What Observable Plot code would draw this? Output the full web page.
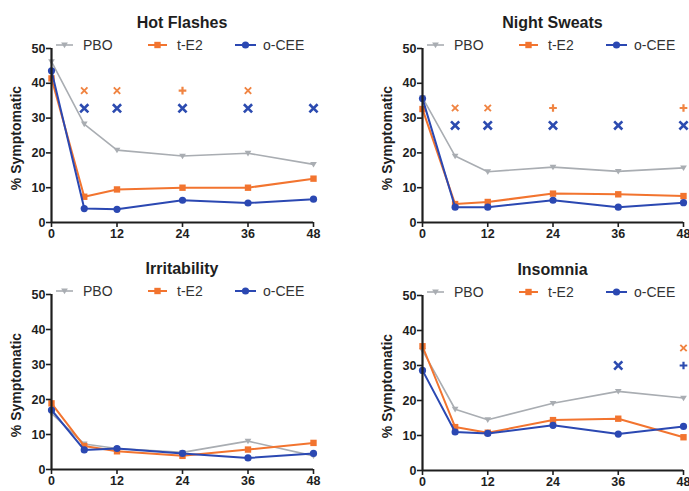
<!DOCTYPE html>
<html><head><meta charset="utf-8">
<script src="https://cdn.jsdelivr.net/npm/d3@7"></script>
<script src="https://cdn.jsdelivr.net/npm/@observablehq/plot@0.6"></script>
<style>
body{margin:0;background:#fff;}
#root{position:relative;width:689px;height:491px;overflow:hidden;font-family:"Liberation Sans",Arial,sans-serif;background:#fff;}
.panel{position:absolute;}
.title{position:absolute;font-weight:bold;font-size:16px;color:#1e1e1e;transform:translateX(-50%);white-space:nowrap;line-height:1;}
.legend{position:absolute;overflow:visible;}
</style></head><body><div id="root"></div>
<script>
// ---- data ----
const weeks = [0, 6, 12, 24, 36, 48];
const xTicks = [0, 12, 24, 36, 48];
const yTicks = [0, 10, 20, 30, 40, 50];
const seriesNames = ["PBO", "t-E2", "o-CEE"];
const seriesColors = ["#a9adb2", "#f2742f", "#2b48b2"];
const panelTitles = ["Hot Flashes", "Night Sweats", "Irritability", "Insomnia"];
const yLabel = "% Symptomatic";

const hotPBO = [46.2, 28.3, 20.8, 19.1, 19.9, 16.7];
const hotTE2 = [41.4, 7.4, 9.5, 10.0, 10.0, 12.6];
const hotCEE = [43.6, 4.0, 3.8, 6.4, 5.6, 6.7];
const hotSigTE2Weeks = [6, 12, 24, 36];
const hotSigTE2Marks = ["times", "times", "plus", "times"];
const hotSigTE2Level = 37.9;
const hotSigCEEWeeks = [6, 12, 24, 36, 48];
const hotSigCEEMarks = ["times", "times", "times", "times", "times"];
const hotSigCEELevel = 32.8;

const nightPBO = [35.9, 19.1, 14.6, 15.9, 14.7, 15.7];
const nightTE2 = [32.6, 5.3, 5.9, 8.3, 8.1, 7.6];
const nightCEE = [35.6, 4.4, 4.4, 6.4, 4.4, 5.7];
const nightSigTE2Weeks = [6, 12, 24, 48];
const nightSigTE2Marks = ["times", "times", "plus", "plus"];
const nightSigTE2Level = 32.9;
const nightSigCEEWeeks = [6, 12, 24, 36, 48];
const nightSigCEEMarks = ["times", "times", "times", "times", "times"];
const nightSigCEELevel = 27.9;

const irrPBO = [16.0, 7.3, 6.0, 4.9, 8.1, 3.9];
const irrTE2 = [18.9, 6.7, 5.2, 3.9, 5.7, 7.6];
const irrCEE = [17.0, 5.6, 6.0, 4.6, 3.3, 4.6];
const irrSigTE2Weeks = [];
const irrSigTE2Marks = [];
const irrSigTE2Level = 0;
const irrSigCEEWeeks = [];
const irrSigCEEMarks = [];
const irrSigCEELevel = 0;

const insPBO = [34.3, 17.5, 14.5, 19.2, 22.6, 20.7];
const insTE2 = [35.5, 12.4, 10.8, 14.4, 14.8, 9.5];
const insCEE = [28.6, 11.0, 10.6, 12.9, 10.4, 12.6];
const insSigTE2Weeks = [48];
const insSigTE2Marks = ["times"];
const insSigTE2Level = 35.0;
const insSigCEEWeeks = [36, 48];
const insSigCEEMarks = ["times", "plus"];
const insSigCEELevel = 30.0;

// ---- helpers ----
const triangleDown = {
  draw(ctx, size) {
    const k = Math.sqrt(size / Math.PI);
    ctx.moveTo(-k * 1.05, -k * 0.75);
    ctx.lineTo(k * 1.05, -k * 0.75);
    ctx.lineTo(0, k * 1.0);
    ctx.closePath();
  }
};
const seriesSymbols = [triangleDown, "square", "circle"];
const seriesR = [3.2, 3.6, 3.6];
const seriesWidth = [1.6, 2, 2];
const sigColors = ["#f08442", "#2c4bb0"];

function rows(values) { return weeks.map((w, i) => ({week: w, value: values[i]})); }
function sigRows(ws, ms, level) { return ws.map((w, i) => ({week: w, mark: ms[i], value: level})); }

const panels = [
  {series: [hotPBO, hotTE2, hotCEE], sig: [[hotSigTE2Weeks, hotSigTE2Marks, hotSigTE2Level], [hotSigCEEWeeks, hotSigCEEMarks, hotSigCEELevel]],
   left: 0, top: 0, width: 345, height: 245, ml: 51, mr: 32, mt: 48, mb: 23},
  {series: [nightPBO, nightTE2, nightCEE], sig: [[nightSigTE2Weeks, nightSigTE2Marks, nightSigTE2Level], [nightSigCEEWeeks, nightSigCEEMarks, nightSigCEELevel]],
   left: 345, top: 0, width: 344, height: 245, ml: 77, mr: 6, mt: 48, mb: 23},
  {series: [irrPBO, irrTE2, irrCEE], sig: [[irrSigTE2Weeks, irrSigTE2Marks, irrSigTE2Level], [irrSigCEEWeeks, irrSigCEEMarks, irrSigCEELevel]],
   left: 0, top: 245, width: 345, height: 246, ml: 51, mr: 32, mt: 49, mb: 22},
  {series: [insPBO, insTE2, insCEE], sig: [[insSigTE2Weeks, insSigTE2Marks, insSigTE2Level], [insSigCEEWeeks, insSigCEEMarks, insSigCEELevel]],
   left: 345, top: 245, width: 344, height: 246, ml: 77, mr: 6, mt: 50, mb: 21}
];

const root = document.getElementById("root");

panels.forEach((p, pi) => {
  const marks = [];
  // significance markers
  p.sig.forEach((s, si) => {
    const data = sigRows(s[0], s[1], s[2]);
    data.forEach(d => {
      const isPlus = d.mark === "plus";
      const r = isPlus ? 2.6 : (si === 1 ? 3.8 : 3.0);
      const sw = isPlus ? 2.2 : (si === 1 ? 2.6 : 1.9);
      marks.push(Plot.dot([d], {x: "week", y: "value", symbol: () => d.mark, r,
        stroke: sigColors[si], strokeWidth: sw, fill: "none"}));
    });
  });
  // series
  p.series.forEach((vals, k) => {
    const data = rows(vals);
    marks.push(Plot.line(data, {x: "week", y: "value", stroke: seriesColors[k], strokeWidth: seriesWidth[k]}));
    marks.push(Plot.dot(data, {x: "week", y: "value", symbol: seriesSymbols[k], r: seriesR[k], fill: seriesColors[k], stroke: "none"}));
  });
  // axes
  marks.push(Plot.axisX(xTicks, {tickSize: 5, tickPadding: 2, strokeWidth: 1.6, stroke: "#1e1e1e", fill: "#1e1e1e", label: null}));
  marks.push(Plot.axisY(yTicks, {tickSize: 5, tickPadding: 1, strokeWidth: 1.6, stroke: "#1e1e1e", fill: "#1e1e1e", label: null}));
  marks.push(Plot.ruleX([0], {stroke: "#1e1e1e", strokeWidth: 2.2}));
  marks.push(Plot.ruleY([0], {stroke: "#1e1e1e", strokeWidth: 2.2}));

  const chart = Plot.plot({
    width: p.width, height: p.height,
    marginLeft: p.ml, marginRight: p.mr, marginTop: p.mt, marginBottom: p.mb,
    x: {domain: [0, 48]},
    y: {domain: [0, 50]},
    style: {fontFamily: '"Liberation Sans", Arial, sans-serif', fontSize: "12.5px", fontWeight: "bold", color: "#1e1e1e", background: "transparent", overflow: "visible"},
    marks
  });
  chart.classList.add("panel");
  chart.style.left = p.left + "px";
  chart.style.top = p.top + "px";
  root.appendChild(chart);

  // y label
  const yl = document.createElement("div");
  yl.textContent = yLabel;
  yl.style.cssText = `position:absolute;font-weight:bold;font-size:14px;color:#1e1e1e;white-space:nowrap;line-height:1;transform:translate(-50%,-50%) rotate(-90deg);`;
  const y0 = p.top + p.mt, y1 = p.top + p.height - p.mb;
  yl.style.left = (p.left + p.ml - 35) + "px";
  yl.style.top = ((y0 + y1) / 2 + 3) + "px";
  root.appendChild(yl);

  // title
  const t = document.createElement("div");
  t.className = "title";
  t.textContent = panelTitles[pi];
  t.style.left = (p.left + (p.ml + p.width - p.mr) / 2) + "px";
  t.style.top = (p.top + p.mt - 33) + "px";
  root.appendChild(t);

  // legend
  const ax = p.left + p.ml, ly = p.top + p.mt - 3;
  const lineStart = [5, 97, 184], lineEnd = [22, 116, 205], textStart = [32, 126, 212];
  const svg = d3.select(root).append("svg").attr("class", "legend")
    .style("left", ax + "px").style("top", (ly - 10) + "px")
    .attr("width", 270).attr("height", 20);
  seriesNames.forEach((name, k) => {
    svg.append("line").attr("x1", lineStart[k]).attr("x2", lineEnd[k]).attr("y1", 10).attr("y2", 10)
      .attr("stroke", seriesColors[k]).attr("stroke-width", seriesWidth[k]);
    const cx = (lineStart[k] + lineEnd[k]) / 2;
    const sym = typeof seriesSymbols[k] === "string"
      ? d3.symbol(seriesSymbols[k] === "square" ? d3.symbolSquare : d3.symbolCircle, Math.PI * seriesR[k] * seriesR[k])
      : d3.symbol(seriesSymbols[k], Math.PI * seriesR[k] * seriesR[k]);
    svg.append("path").attr("d", sym()).attr("transform", `translate(${cx},10)`).attr("fill", seriesColors[k]);
    svg.append("text").attr("x", textStart[k]).attr("y", 15).text(name)
      .attr("font-family", '"Liberation Sans", Arial, sans-serif').attr("font-size", 14).attr("fill", "#333");
  });
});
</script></body></html>
